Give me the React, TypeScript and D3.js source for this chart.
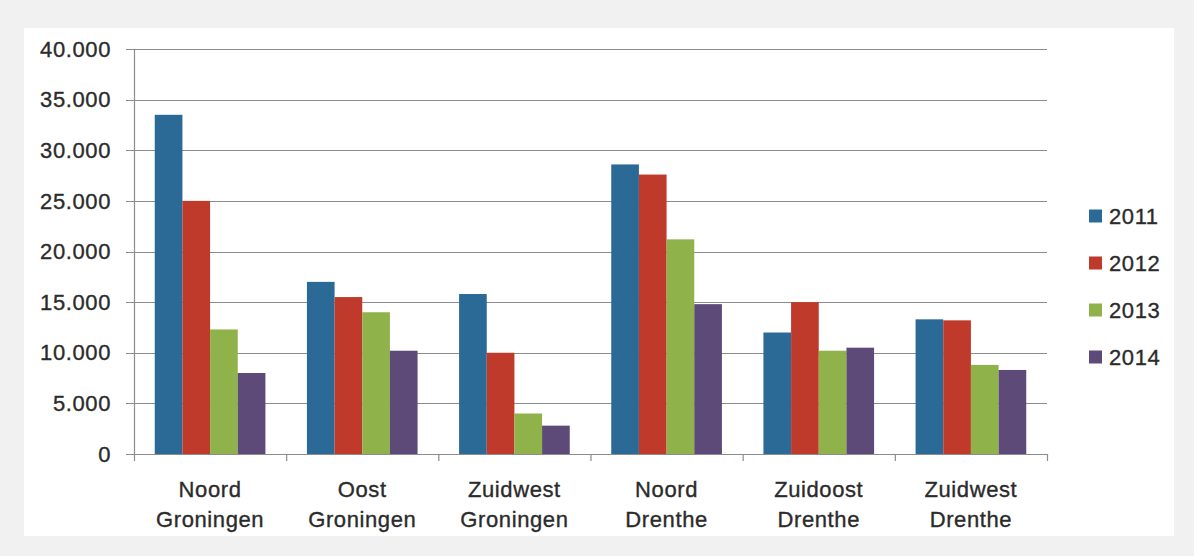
import React from "react";
import * as d3 from "d3";

// Regions (two-line category labels)
const regions: string[][] = [
  ["Noord", "Groningen"],
  ["Oost", "Groningen"],
  ["Zuidwest", "Groningen"],
  ["Noord", "Drenthe"],
  ["Zuidoost", "Drenthe"],
  ["Zuidwest", "Drenthe"],
];

const years = ["2011", "2012", "2013", "2014"];

// Values per year, in region order
const values2011 = [33500, 17000, 15800, 28600, 12000, 13300];
const values2012 = [25000, 15500, 10000, 27600, 15000, 13200];
const values2013 = [12300, 14000, 4000, 21200, 10200, 8800];
const values2014 = [8000, 10200, 2800, 14800, 10500, 8300];

const yTicks = [0, 5000, 10000, 15000, 20000, 25000, 30000, 35000, 40000];

const seriesColors = ["#2b6a97", "#c03a2b", "#8fb24b", "#5e4a78"];

const W = 1194;
const H = 556;
const plot = { left: 134, right: 1047, top: 49, bottom: 454 };
const FONT = "'Liberation Sans', Arial, sans-serif";
const TEXT = "#2b2b2b";

export default function App() {
  const series = [values2011, values2012, values2013, values2014];
  const keys = regions.map((r) => r.join(" "));

  const x0 = d3.scaleBand<string>().domain(keys).range([plot.left, plot.right]).paddingInner(0).paddingOuter(0);
  // gap width of 150%: 4 bars + 1.5 bar widths of gap per category
  const bw = x0.bandwidth() / 5.5;
  const y = d3.scaleLinear().domain([0, 40000]).range([plot.bottom, plot.top]);
  const fmt = (v: number) => (v === 0 ? "0" : d3.format(",")(v).replace(/,/g, "."));

  const boundaries = keys.map((k) => x0(k)!).concat([plot.right]);
  const textStyle = { letterSpacing: "0.6px" };

  return (
    <svg
      width={W}
      height={H}
      style={{ position: "absolute", left: 0, top: 0, display: "block" }}
      fontFamily={FONT}
    >
      {/* light frame around the chart */}
      <rect x={0} y={0} width={W} height={H} fill="#f1f1f1" />
      <rect x={24} y={28} width={1150} height={508} fill="#ffffff" />

      {/* horizontal gridlines and y tick labels */}
      {yTicks.map((t) => (
        <g key={t}>
          <line x1={plot.left - 8} x2={plot.right} y1={Math.round(y(t)) + 0.5} y2={Math.round(y(t)) + 0.5} stroke="#8c8c8c" strokeWidth={1.2} />
          <text
            x={111}
            y={y(t)}
            dy="0.35em"
            textAnchor="end"
            fontSize={22}
            fill={TEXT}
            stroke={TEXT}
            strokeWidth={0.35}
            style={textStyle}
          >
            {fmt(t)}
          </text>
        </g>
      ))}

      {/* vertical axis */}
      <line x1={plot.left + 0.5} x2={plot.left + 0.5} y1={plot.top} y2={plot.bottom} stroke="#8c8c8c" strokeWidth={1.2} />

      {/* bars */}
      {keys.map((k, i) => (
        <g key={k}>
          {series.map((vals, s) => {
            const bx = x0(k)! + bw * 0.75 + s * bw;
            return (
              <rect
                key={s}
                x={bx}
                y={y(vals[i])}
                width={bw}
                height={y(0) - y(vals[i])}
                fill={seriesColors[s]}
              />
            );
          })}
        </g>
      ))}

      {/* category axis with boundary ticks */}
      <line x1={plot.left} x2={plot.right} y1={plot.bottom + 0.5} y2={plot.bottom + 0.5} stroke="#8c8c8c" strokeWidth={1.2} />
      {boundaries.map((bx, i) => (
        <line key={i} x1={bx + 0.5} x2={bx + 0.5} y1={plot.bottom} y2={plot.bottom + 7} stroke="#8c8c8c" strokeWidth={1.2} />
      ))}

      {/* category labels */}
      {regions.map((r, i) => {
        const cx = x0(keys[i])! + x0.bandwidth() / 2;
        return (
          <text
            key={i}
            textAnchor="middle"
            fontSize={22}
            fill={TEXT}
            stroke={TEXT}
            strokeWidth={0.35}
            style={textStyle}
          >
            <tspan x={cx} y={497}>{r[0]}</tspan>
            <tspan x={cx} y={527}>{r[1]}</tspan>
          </text>
        );
      })}

      {/* legend */}
      {years.map((yr, s) => {
        const cy = 216 + s * 47;
        return (
          <g key={yr}>
            <rect x={1089} y={cy - 6.5} width={13} height={13} fill={seriesColors[s]} />
            <text
              x={1109}
              y={cy}
              dy="0.35em"
              fontSize={22}
              fill={TEXT}
              stroke={TEXT}
              strokeWidth={0.35}
              style={textStyle}
            >
              {yr}
            </text>
          </g>
        );
      })}
    </svg>
  );
}
